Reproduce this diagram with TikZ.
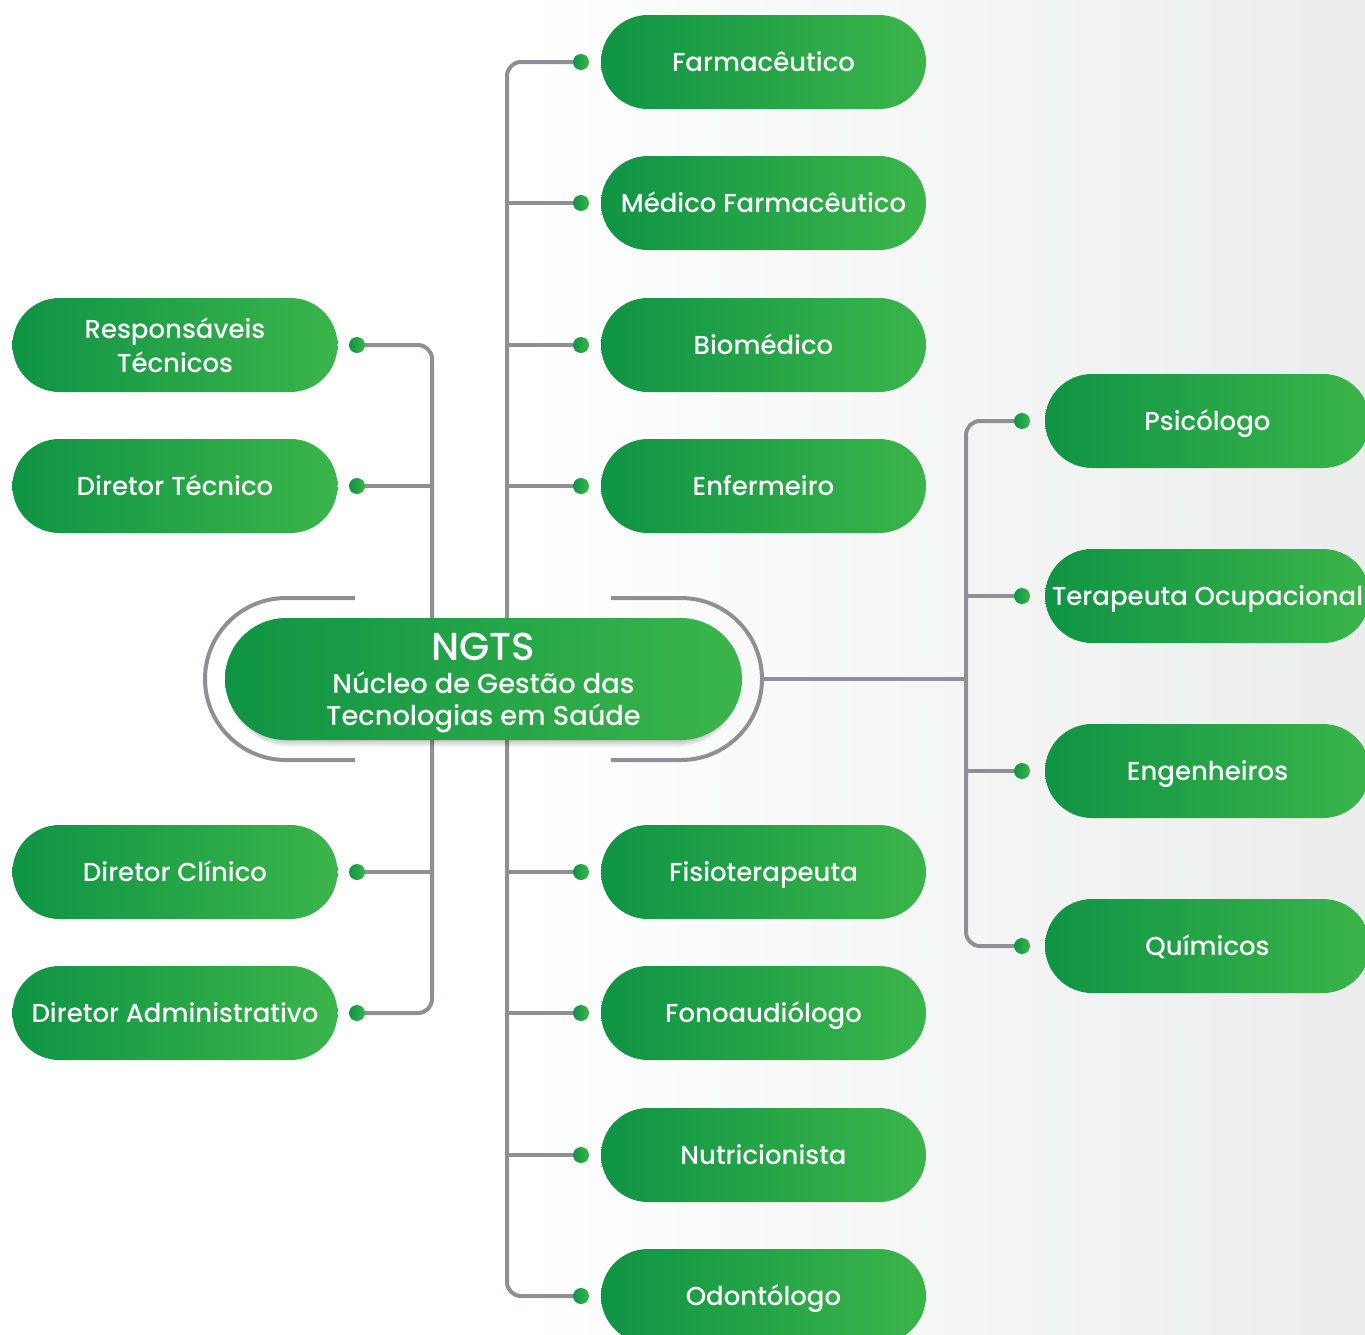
\documentclass[tikz,border=0pt]{standalone}
\usepackage{fontspec}
\setmainfont{Poppins Medium}

\definecolor{gDark}{RGB}{15,148,69}
\definecolor{gMid}{RGB}{22,152,70}
\definecolor{gLight}{RGB}{59,181,74}
\definecolor{lineGrey}{RGB}{141,144,148}
\definecolor{bgGrey}{RGB}{235,236,236}

\pgfdeclarelayer{bg}
\pgfdeclarelayer{lines}
\pgfsetlayers{bg,lines,main}

\tikzset{
  box/.style={rounded corners=47pt, minimum width=325pt, minimum height=94pt,
    left color=gDark, middle color=gMid, right color=gLight, text=white,
    inner sep=0pt, align=center, font=\fontsize{26}{34}\selectfont,
    text height=18.5pt, text depth=0pt},
  multi/.style={text height={}, text depth={}},
  dot/.style={circle, minimum size=16pt, inner sep=0pt, left color=gDark, right color=gLight},
  link/.style={draw=lineGrey, line width=4pt},
}

\begin{document}
\begin{tikzpicture}[x=1pt, y=-1pt]
\begin{pgfonlayer}{bg}
\fill[white] (0,0) rectangle (1365,1334);
\shade[left color=white, right color=bgGrey] (520,0) rectangle (1365,1334);
\end{pgfonlayer}
\clip (0,0) rectangle (1365,1334);

% centre
\node[box, multi, rounded corners=61pt, minimum width=517pt, minimum height=122pt,
  font=\fontsize{27.3}{32}\selectfont] (ngts) at (483.5,679)
  {\rule{0pt}{36pt}{\fontsize{39}{40}\selectfont NGTS}\\[1pt]N\'ucleo de Gest\~ao das\\Tecnologias em Sa\'ude};

% middle column
\node[box] (m1) at (763.5,62) {Farmac\^eutico};
\node[box] (m2) at (763.5,203) {M\'edico Farmac\^eutico};
\node[box] (m3) at (763.5,345) {Biom\'edico};
\node[box] (m4) at (763.5,486) {Enfermeiro};
\node[box] (m5) at (763.5,872) {Fisioterapeuta};
\node[box] (m6) at (763.5,1013) {Fonoaudi\'ologo};
\node[box] (m7) at (763.5,1155) {Nutricionista};
\node[box] (m8) at (763.5,1296) {Odont\'ologo};

% left column
\node[box, multi] (l1) at (175,345) {Respons\'aveis\\T\'ecnicos};
\node[box] (l2) at (175,486) {Diretor T\'ecnico};
\node[box] (l3) at (175,872) {Diretor Cl\'inico};
\node[box] (l4) at (175,1013) {Diretor Administrativo};

% right column
\node[box] (r1) at (1207.5,421) {Psic\'ologo};
\node[box] (r2) at (1207.5,596) {Terapeuta Ocupacional};
\node[box] (r3) at (1207.5,771) {Engenheiros};
\node[box] (r4) at (1207.5,946) {Qu\'imicos};

% dots
\foreach \i/\y in {1/62,2/203,3/345,4/486,5/872,6/1013,7/1155,8/1296}
  \node[dot] (dm\i) at (581,\y) {};
\foreach \i/\y in {1/345,2/486,3/872,4/1013}
  \node[dot] (dl\i) at (357,\y) {};
\foreach \i/\y in {1/421,2/596,3/771,4/946}
  \node[dot] (dr\i) at (1022,\y) {};

\coordinate (mt) at (507,62);
\coordinate (mb) at (507,1296);
\coordinate (lt) at (432,345);
\coordinate (lb) at (432,1013);
\coordinate (rt) at (966,421);
\coordinate (rb) at (966,946);
\coordinate (hub) at (762,679);

\begin{pgfonlayer}{lines}
\draw[link, rounded corners=14pt] (dm1.center) -- (mt) -- (mb) -- (dm8.center);
\foreach \i in {2,...,7}
  \draw[link] (dm\i.center) -- (dm\i -| mt);

\draw[link, rounded corners=14pt] (dl1.center) -- (lt) -- (lb) -- (dl4.center);
\draw[link] (dl2.center) -- (dl2 -| lt);
\draw[link] (dl3.center) -- (dl3 -| lt);

\draw[link, rounded corners=14pt] (dr1.center) -- (rt) -- (rb) -- (dr4.center);
\draw[link] (dr2.center) -- (dr2 -| rt);
\draw[link] (dr3.center) -- (dr3 -| rt);
\draw[link] (hub) -- (hub -| rt);

% bracket round the centre
\draw[link] (355,598) -- (286,598) arc[start angle=-90, end angle=-270, radius=81] -- (355,760);
\draw[link] (611,598) -- (681,598) arc[start angle=-90, end angle=90, radius=81] -- (611,760);

% soft shadow under the centre
\foreach \k in {1,...,9}
  \fill[black, opacity=0.03, rounded corners=61pt] (228,618+\k) rectangle (739,738+\k);
\end{pgfonlayer}
\end{tikzpicture}
\end{document}
